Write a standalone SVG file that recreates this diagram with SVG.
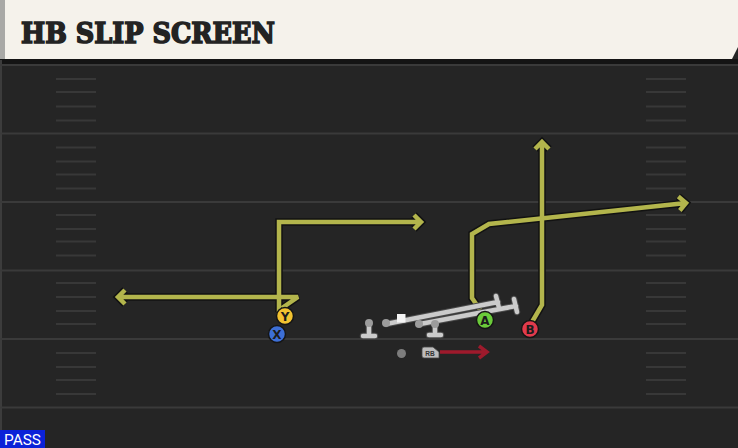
<svg xmlns="http://www.w3.org/2000/svg" xmlns:xlink="http://www.w3.org/1999/xlink" width="738" height="448" viewBox="0 0 738 448">
<style>
.yl{stroke:#3a3a3a;stroke-width:2}
.hs{stroke:#383838;stroke-width:2}
.out{fill:none;stroke:#121212;stroke-width:7.5;stroke-linejoin:miter;stroke-miterlimit:2;stroke-linecap:butt}
.rt{fill:none;stroke:#b3b54c;stroke-width:4.5;stroke-linejoin:miter;stroke-miterlimit:2;stroke-linecap:butt}
.blk{fill:none;stroke:#cbcbcb;stroke-width:4.5;stroke-linecap:round}
.blkout{fill:none;stroke:#4a4a4a;stroke-width:6.5;stroke-linecap:round}
.pl{stroke:#151515;stroke-width:1.5}
.lt{font-family:"DejaVu Sans","Liberation Sans",sans-serif;font-weight:bold;font-size:12px;fill:#1c1c1c;text-anchor:middle}
</style>
<defs>
<path id="r1" d="M279 312 V222 H421 M414 215 L421 222 L414 229"/>
<path id="r2" d="M282 308 L298 297 H118 M125 290 L118 297 L125 304"/>
<path id="r3" d="M481 311 L472 298 V234 L489 224 L686 203 M678.3 196.5 L686 203 L679.8 210.5"/>
<path id="r4" d="M532 322 L542 305 V142 M535 149 L542 142 L549 149"/>
<path id="ol" d="M369 324 V336 M363 336 H375 M435 324 V335 M429 335 H441 M386 324 L498 302 M496 296 L499 308 M420 324 L516 306 M514 299 L517 312"/>
</defs>
<rect x="0" y="0" width="738" height="448" fill="#252525"/>
<rect x="0" y="59" width="738" height="5" fill="#141414"/>
<rect x="0" y="60" width="2" height="388" fill="#3c3c3c"/>
<g id="field">
<line class="yl" x1="0" y1="65" x2="738" y2="65"/>
<line class="yl" x1="0" y1="133.5" x2="738" y2="133.5"/>
<line class="yl" x1="0" y1="202" x2="738" y2="202"/>
<line class="yl" x1="0" y1="270.5" x2="738" y2="270.5"/>
<line class="yl" x1="0" y1="339" x2="738" y2="339"/>
<line class="yl" x1="0" y1="407.5" x2="738" y2="407.5"/>
<g id="hashL">
<line class="hs" x1="56" y1="79" x2="96" y2="79"/><line class="hs" x1="56" y1="92" x2="96" y2="92"/><line class="hs" x1="56" y1="106.5" x2="96" y2="106.5"/><line class="hs" x1="56" y1="120.5" x2="96" y2="120.5"/>
<line class="hs" x1="56" y1="147.5" x2="96" y2="147.5"/><line class="hs" x1="56" y1="161.5" x2="96" y2="161.5"/><line class="hs" x1="56" y1="174.5" x2="96" y2="174.5"/><line class="hs" x1="56" y1="188.5" x2="96" y2="188.5"/>
<line class="hs" x1="56" y1="215" x2="96" y2="215"/><line class="hs" x1="56" y1="229" x2="96" y2="229"/><line class="hs" x1="56" y1="241.5" x2="96" y2="241.5"/><line class="hs" x1="56" y1="255.5" x2="96" y2="255.5"/>
<line class="hs" x1="56" y1="283" x2="96" y2="283"/><line class="hs" x1="56" y1="297" x2="96" y2="297"/><line class="hs" x1="56" y1="311" x2="96" y2="311"/><line class="hs" x1="56" y1="324" x2="96" y2="324"/>
<line class="hs" x1="56" y1="353" x2="96" y2="353"/><line class="hs" x1="56" y1="367" x2="96" y2="367"/><line class="hs" x1="56" y1="380" x2="96" y2="380"/><line class="hs" x1="56" y1="394" x2="96" y2="394"/>
</g>
<use xlink:href="#hashL" href="#hashL" transform="translate(590 0)"/>
</g>
<g id="header">
<path d="M0 0 H738 V47 L732 59 H0 Z" fill="#f5f2eb"/>
<rect x="0" y="0" width="5" height="59" fill="#a9a9a6"/>
<text x="21" y="43" font-family="'DejaVu Serif','Liberation Serif',serif" font-weight="900" font-size="28" textLength="254" lengthAdjust="spacingAndGlyphs" fill="#232323" stroke="#232323" stroke-width="1.6" stroke-linejoin="miter">HB SLIP SCREEN</text>
</g>
<g id="connectors">
<use href="#r1" xlink:href="#r1" class="out"/>
<use href="#r2" xlink:href="#r2" class="out"/>
<use href="#r3" xlink:href="#r3" class="out"/>
<use href="#r4" xlink:href="#r4" class="out"/>
<use href="#r1" xlink:href="#r1" class="rt"/>
<use href="#r2" xlink:href="#r2" class="rt"/>
<use href="#r3" xlink:href="#r3" class="rt"/>
<use href="#r4" xlink:href="#r4" class="rt"/>
<path d="M440 352 H486 M479 346 L487 352 L479 358" fill="none" stroke="#9e1a2c" stroke-width="3.5" stroke-linejoin="miter"/>
</g>
<g id="line">
<use href="#ol" xlink:href="#ol" class="blkout"/>
<use href="#ol" xlink:href="#ol" class="blk"/>
<circle cx="369" cy="323" r="4" fill="#9c9c9c"/>
<circle cx="386" cy="323" r="4" fill="#9c9c9c"/>
<circle cx="419" cy="324" r="4" fill="#9c9c9c"/>
<circle cx="435" cy="324" r="4" fill="#9c9c9c"/>
<rect x="397" y="314" width="8.5" height="8.5" fill="#f4f4f4"/>
</g>
<g id="qb"><circle cx="401.5" cy="353.5" r="4.5" fill="#7d7d7d"/></g>
<g id="rb">
<path d="M424 347 H433 L439 352 V358 H424 Q422 358 422 356 V349 Q422 347 424 347 Z" fill="#bdbdbd" stroke="#444" stroke-width="0.8"/>
<text x="430" y="356" font-family="'Liberation Sans',sans-serif" font-weight="bold" font-size="6.5" fill="#333" text-anchor="middle">RB</text>
</g>
<g id="Y"><circle cx="285" cy="316" r="8.5" fill="#f2c230" class="pl"/><text class="lt" x="285" y="320.5">Y</text></g>
<g id="X"><circle cx="277" cy="334" r="8.5" fill="#3d6fd6" class="pl"/><text class="lt" x="277" y="338.5">X</text></g>
<g id="A"><circle cx="485" cy="320" r="8.5" fill="#6bcb3a" class="pl"/><text class="lt" x="485" y="324.5">A</text></g>
<g id="B"><circle cx="530" cy="329" r="8.5" fill="#e23a4c" class="pl"/><text class="lt" x="530" y="333.5">B</text></g>
<g id="pass">
<rect x="0" y="430" width="45" height="18" fill="#0b22d8"/>
<text x="22.5" y="444.5" font-family="Roboto,'Liberation Sans',sans-serif" font-size="14" fill="#ffffff" text-anchor="middle" textLength="37" lengthAdjust="spacingAndGlyphs">PASS</text>
</g>
</svg>
